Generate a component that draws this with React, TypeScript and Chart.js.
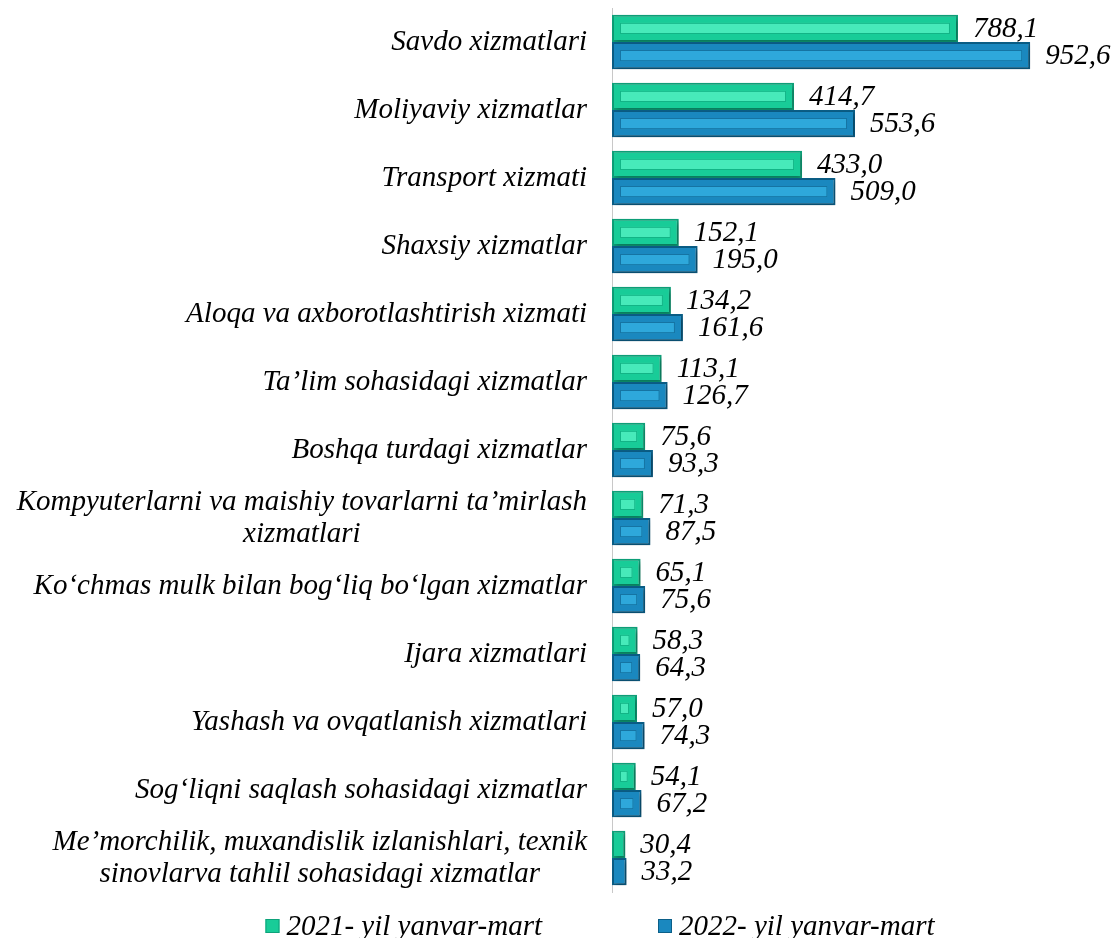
import React, { useEffect, useRef } from "react";
import { Chart, registerables } from "chart.js";

Chart.register(...registerables);

const categories: string[] = [
  "Savdo xizmatlari",
  "Moliyaviy xizmatlar",
  "Transport xizmati",
  "Shaxsiy xizmatlar",
  "Aloqa va axborotlashtirish xizmati",
  "Ta’lim sohasidagi xizmatlar",
  "Boshqa turdagi xizmatlar",
  "Kompyuterlarni va maishiy tovarlarni ta’mirlash\nxizmatlari",
  "Ko‘chmas mulk bilan bog‘liq bo‘lgan xizmatlar",
  "Ijara xizmatlari",
  "Yashash va ovqatlanish xizmatlari",
  "Sog‘liqni saqlash sohasidagi xizmatlar",
  "Me’morchilik, muxandislik izlanishlari, texnik\nsinovlarva tahlil sohasidagi xizmatlar",
];

const values2021: number[] = [788.1, 414.7, 433.0, 152.1, 134.2, 113.1, 75.6, 71.3, 65.1, 58.3, 57.0, 54.1, 30.4];
const values2022: number[] = [952.6, 553.6, 509.0, 195.0, 161.6, 126.7, 93.3, 87.5, 75.6, 64.3, 74.3, 67.2, 33.2];

const seriesNames: string[] = ["2021- yil yanvar-mart", "2022- yil yanvar-mart"];

const FONT = "'Liberation Serif', 'Times New Roman', serif";
const LABEL_SIZE = 29;
const VALUE_SIZE = 29;

const fills = ["#18CC98", "#1A88BF"];
const borders = ["#0EA27A", "#0B5F88"];
const stripes = ["#47EABA", "#2EA8DB"];
const stripeBorders = ["#12B486", "#1574A3"];

const fmt = (v: number) => v.toFixed(1).replace(".", ",");

const W = 1115;
const H = 938;

export default function App() {
  const ref = useRef<HTMLCanvasElement | null>(null);

  useEffect(() => {
    if (!ref.current) return;
    document.body.style.margin = "0";
    document.body.style.overflow = "hidden";

    const shadowPlugin = {
      id: "shadowPlugin",
      beforeDatasetsDraw(chart: any) {
        const ctx = chart.ctx;
        ctx.save();
        ctx.shadowColor = "rgba(0,0,0,0.35)";
        ctx.shadowBlur = 5;
        ctx.shadowOffsetX = 2;
        ctx.shadowOffsetY = 2;
      },
      afterDatasetsDraw(chart: any) {
        chart.ctx.restore();
      },
    };

    const decorPlugin = {
      id: "decorPlugin",
      afterDraw(chart: any) {
        const ctx = chart.ctx;
        const yScale = chart.scales.y;
        chart.data.datasets.forEach((ds: any, di: number) => {
          const meta = chart.getDatasetMeta(di);
          meta.data.forEach((el: any, i: number) => {
            const p = el.getProps(["x", "y", "base", "height"], true);
            const left = Math.min(p.x, p.base);
            const right = Math.max(p.x, p.base);
            const w = right - left;
            const h = p.height;
            const inset = Math.min(8, h * 0.3);
            if (w > inset * 2 + 2) {
              ctx.save();
              ctx.fillStyle = stripes[di];
              ctx.strokeStyle = stripeBorders[di];
              ctx.lineWidth = 1;
              const sx = left + inset;
              const sy = p.y - h / 2 + inset;
              const sw = w - inset * 2;
              const sh = h - inset * 2;
              ctx.fillRect(sx, sy, sw, sh);
              ctx.strokeRect(sx + 0.5, sy + 0.5, sw - 1, sh - 1);
              ctx.restore();
            }
            ctx.save();
            ctx.font = `italic ${VALUE_SIZE}px ${FONT}`;
            ctx.fillStyle = "#000";
            ctx.textAlign = "left";
            ctx.textBaseline = "middle";
            ctx.fillText(fmt(ds.data[i]), right + 15, p.y + 1);
            ctx.restore();
          });
        });

        // category labels
        ctx.save();
        ctx.font = `italic ${LABEL_SIZE}px ${FONT}`;
        ctx.fillStyle = "#000";
        ctx.textBaseline = "middle";
        const rightEdge = yScale.right - 25;
        const lineH = 32;
        categories.forEach((lab, i) => {
          const lines = lab.split("\n");
          const yc = yScale.getPixelForTick(i);
          const widths = lines.map((l) => ctx.measureText(l).width);
          const bw = Math.max(...widths);
          const cx = rightEdge - bw / 2;
          lines.forEach((l, li) => {
            const y = yc + (li - (lines.length - 1) / 2) * lineH;
            ctx.textAlign = "center";
            ctx.fillText(l, cx, y);
          });
        });
        ctx.restore();

        // legend
        ctx.save();
        ctx.font = `italic ${VALUE_SIZE}px ${FONT}`;
        ctx.textBaseline = "middle";
        const boxW = 14;
        const boxH = 14;
        const gapBoxText = 7;
        const gapItems = 116;
        const tw = seriesNames.map((n) => ctx.measureText(n).width);
        const total = tw.reduce((a, b) => a + b, 0) + seriesNames.length * (boxW + gapBoxText) + gapItems * (seriesNames.length - 1);
        let x = 600 - total / 2;
        const y = 926;
        seriesNames.forEach((n, i) => {
          ctx.fillStyle = fills[i];
          ctx.fillRect(x, y - boxH / 2, boxW, boxH);
          ctx.strokeStyle = borders[i];
          ctx.lineWidth = 1;
          ctx.strokeRect(x + 0.5, y - boxH / 2 + 0.5, boxW - 1, boxH - 1);
          x += boxW + gapBoxText;
          ctx.fillStyle = "#000";
          ctx.textAlign = "left";
          ctx.fillText(n, x, y + 1);
          x += tw[i] + gapItems;
        });
        ctx.restore();
      },
    };

    const chart = new Chart(ref.current, {
      type: "bar",
      data: {
        labels: categories,
        datasets: [
          {
            label: seriesNames[0],
            data: values2021,
            backgroundColor: fills[0],
            borderColor: borders[0],
            borderWidth: 2,
            borderSkipped: false,
            categoryPercentage: 0.8,
            barPercentage: 1.0,
          },
          {
            label: seriesNames[1],
            data: values2022,
            backgroundColor: fills[1],
            borderColor: borders[1],
            borderWidth: 2,
            borderSkipped: false,
            categoryPercentage: 0.8,
            barPercentage: 1.0,
          },
        ],
      },
      options: {
        indexAxis: "y",
        animation: false,
        responsive: false,
        maintainAspectRatio: false,
        layout: { padding: { top: 8, bottom: 46, right: 64, left: 0 } },
        plugins: {
          legend: { display: false },
          tooltip: { enabled: false },
        },
        scales: {
          x: {
            display: false,
            min: 0,
            max: 1000,
          },
          y: {
            display: true,
            grid: { display: false },
            border: { display: true, color: "#C8C8C8", width: 1 },
            ticks: { display: false },
            afterFit: (s: any) => {
              s.width = 612;
            },
          },
        },
      },
      plugins: [shadowPlugin, decorPlugin],
    });

    return () => chart.destroy();
  }, []);

  return (
    <div style={{ width: W, height: H }}>
      <canvas ref={ref} width={W} height={H} style={{ display: "block" }} />
    </div>
  );
}
